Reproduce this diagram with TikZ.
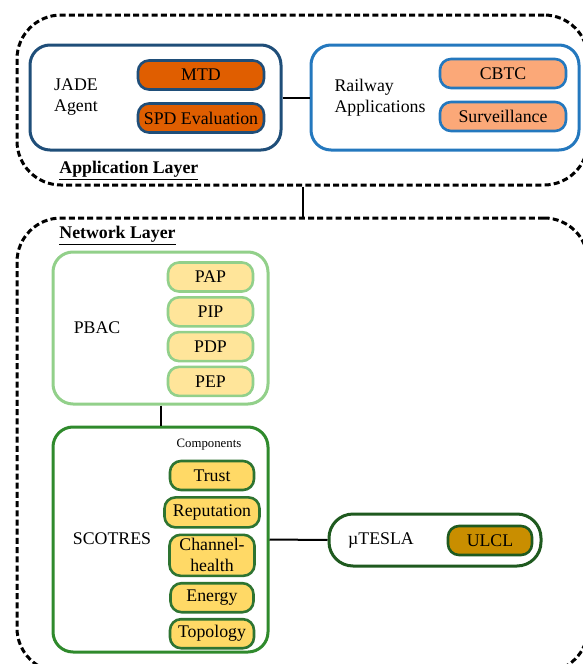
\documentclass[tikz,border=0pt]{standalone}
\usepackage{fontspec}
\setmainfont{Liberation Serif}
\usepackage{xcolor}
\usetikzlibrary{positioning}
\definecolor{jadeblue}{HTML}{1F4E79}
\definecolor{railblue}{HTML}{2478BE}
\definecolor{mtdorange}{HTML}{E05E00}
\definecolor{salmon}{HTML}{FBA878}
\definecolor{pbacgreen}{HTML}{92D08A}
\definecolor{paleyellow}{HTML}{FFE59A}
\definecolor{scogreen}{HTML}{2F8A2C}
\definecolor{compborder}{HTML}{2E7431}
\definecolor{gold}{HTML}{FFD966}
\definecolor{teslagreen}{HTML}{1F5A1F}
\definecolor{ulclgold}{HTML}{C98E00}
\tikzset{
  layer/.style = {draw, line width=1.5pt, dash pattern=on 3pt off 1.6pt, rounded corners=22pt},
  group/.style = {draw, line width=1.5pt, rounded corners=10pt, fill=white},
  item/.style  = {draw, line width=1.3pt, rounded corners=5.5pt, minimum height=14.5pt, inner sep=1pt, align=center},
  lbl/.style   = {align=left, inner sep=0pt},
  link/.style  = {line width=1pt}
}
\begin{document}
\begin{tikzpicture}[x=0.5pt, y=-0.5pt, node distance=1.6pt, font=\fontsize{8.9}{10.5}\selectfont]
  \useasboundingbox (0,0) rectangle (583,664);

  \node (applayer) [layer, minimum width=285.5pt, minimum height=85pt] at (302.5,100) {};
  \node (netlayer) [layer, minimum width=285.5pt, minimum height=227pt] at (302.5,445) {};
  \draw [link] (applayer.south) -- (netlayer.north);

  \node (applbl) [lbl, anchor=west] at (59,171) {\underline{\textbf{Application Layer}}};
  \node (netlbl) [lbl, anchor=west] at (59,236) {\underline{\textbf{Network Layer}}};

  \node (jade) [group, draw=jadeblue, minimum width=125.5pt, minimum height=52.5pt] at (155.5,97.5) {};
  \node (railway) [group, draw=railblue, minimum width=134pt, minimum height=52.5pt] at (445,97.5) {};
  \draw [link] (jade.east) -- (railway.west);
  \node (jadelbl) [lbl] at (76,97.5) {JADE\\Agent};
  \node (raillbl) [lbl] at (380,97.5) {Railway\\Applications};
  \node (mtd) [item, draw=jadeblue, fill=mtdorange, minimum width=63pt] at (201,75) {MTD};
  \node (spd) [item, draw=jadeblue, fill=mtdorange, minimum width=63pt] at (201,118) {SPD Evaluation};
  \node (cbtc) [item, draw=railblue, fill=salmon, minimum width=63pt] at (503,73.5) {CBTC};
  \node (surv) [item, draw=railblue, fill=salmon, minimum width=63pt] at (503,116.5) {Surveillance};

  \node (pbac) [group, draw=pbacgreen, minimum width=107.5pt, minimum height=76pt] at (160.5,328) {};
  \node (scotres) [group, draw=scogreen, minimum width=107.5pt, minimum height=112.5pt] at (160.5,539.5) {};
  \draw [link] (pbac.south) -- (scotres.north);
  \node (pbaclbl) [lbl] at (97,328) {PBAC};
  \node (pap) [item, draw=pbacgreen, fill=paleyellow, minimum width=42.5pt] at (210.5,277) {PAP};
  \node (pip) [item, draw=pbacgreen, fill=paleyellow, minimum width=42.5pt, below=of pap] {PIP};
  \node (pdp) [item, draw=pbacgreen, fill=paleyellow, minimum width=42.5pt, below=of pip] {PDP};
  \node (pep) [item, draw=pbacgreen, fill=paleyellow, minimum width=42.5pt, below=of pdp] {PEP};

  \node (scolbl) [lbl] at (112,539) {SCOTRES};
  \node (complbl) [lbl, font=\fontsize{6.4}{7}\selectfont] at (209,445) {Components};
  \node (trust) [item, draw=compborder, fill=gold, minimum width=42pt] at (212,475.5) {Trust};
  \node (reputation) [item, draw=compborder, fill=gold, minimum width=47.5pt, minimum height=15pt, below=2.4pt of trust] {Reputation};
  \node (channel) [item, draw=compborder, fill=gold, minimum width=42.5pt, minimum height=20.5pt, below=2.4pt of reputation] {Channel-\\health};
  \node (energy) [item, draw=compborder, fill=gold, minimum width=41.5pt, below=2.4pt of channel] {Energy};
  \node (topology) [item, draw=compborder, fill=gold, minimum width=42pt, below=2.2pt of energy] {Topology};

  \node (mutesla) [group, draw=teslagreen, minimum width=106pt, minimum height=26pt, rounded corners=12pt] at (435,540) {};
  \draw [link] (scotres.east) -- (mutesla.west);
  \node (mulbl) [lbl] at (381,540) {µTESLA};
  \node (ulcl) [item, draw=teslagreen, fill=ulclgold, minimum width=42pt] at (490,540.5) {ULCL};
\end{tikzpicture}
\end{document}
